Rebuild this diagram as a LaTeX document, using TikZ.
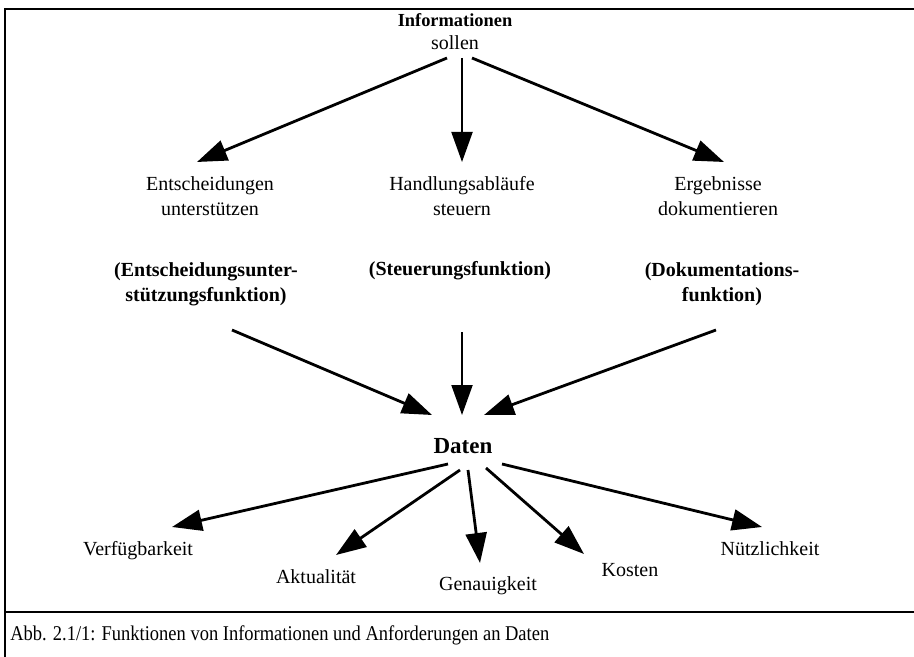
\documentclass[tikz,border=0pt]{standalone}
\usepackage{fontspec}
\setmainfont{Liberation Serif}
\usetikzlibrary{arrows.meta,calc}

\begin{document}
\begin{tikzpicture}[x=0.5pt,y=-0.5pt,
  txt/.style={inner sep=0pt,anchor=base,align=center,font=\fontsize{10}{12.5}\selectfont},
  fett/.style={txt,font=\fontsize{10}{12.5}\selectfont\bfseries},
  pfeil/.style={line width=1.4pt,-{Triangle[length=15pt,width=10.5pt]}}]
\useasboundingbox (0,0) rectangle (914,657);
\draw[line width=1pt] (914,9)--(5,9)--(5,657);
\draw[line width=1pt] (5,612)--(914,612);
\node[fett,font=\fontsize{9.2}{12}\selectfont\bfseries] (info) at (455,27) {Informationen};
\node[txt] (sollen) at (455,50) {sollen};
\node[txt] (entsch) at (210,216) {Entscheidungen\\unterstützen};
\node[txt] (handl) at (462,216) {Handlungsabläufe\\steuern};
\node[txt] (ergeb) at (718,216) {Ergebnisse\\dokumentieren};
\node[fett] (efunk) at (206,301) {(Entscheidungsunter-\\stützungsfunktion)};
\node[fett] (sfunk) at (460,276) {(Steuerungsfunktion)};
\node[fett] (dfunk) at (722,301) {(Dokumentations-\\funktion)};
\node[fett,font=\fontsize{11.5}{13}\selectfont\bfseries] (daten) at (463,453) {Daten};
\node[txt] (verf) at (138,555) {Verfügbarkeit};
\node[txt] (aktu) at (316,583) {Aktualität};
\node[txt] (genau) at (488,590) {Genauigkeit};
\node[txt] (kost) at (630,576) {Kosten};
\node[txt] (nutz) at (770,555) {Nützlichkeit};
\node[txt,anchor=base west,font=\fontsize{10.5}{12.5}\selectfont,xscale=0.88] (abb) at (10,640) {Abb. 2.1/1: Funktionen von Informationen und Anforderungen an Daten};
\draw[pfeil] ($(sollen.base)+(-8,8)$) -- ($(entsch.base)+(-13,-54)$);
\draw[pfeil,line width=1pt] ($(sollen.base)+(7,8)$) -- ($(handl.base)+(0,-54)$);
\draw[pfeil] ($(sollen.base)+(17,8)$) -- ($(ergeb.base)+(6,-54)$);
\draw[pfeil] ($(efunk.base)+(26,29)$) -- ($(daten.base)+(-31,-38)$);
\draw[pfeil,line width=1pt] ($(sfunk.base)+(2,56)$) -- ($(daten.base)+(-1,-38)$);
\draw[pfeil] ($(dfunk.base)+(-6,29)$) -- ($(daten.base)+(21,-38)$);
\draw[pfeil] ($(daten.base)+(-15,11)$) -- ($(verf.base)+(34,-28)$);
\draw[pfeil] ($(daten.base)+(-3,17)$) -- ($(aktu.base)+(20,-28)$);
\draw[pfeil] ($(daten.base)+(5,17)$) -- ($(genau.base)+(-8,-27)$);
\draw[pfeil] ($(daten.base)+(23,15)$) -- ($(kost.base)+(-46,-22)$);
\draw[pfeil] ($(daten.base)+(39,11)$) -- ($(nutz.base)+(-8,-28)$);
\end{tikzpicture}
\end{document}
